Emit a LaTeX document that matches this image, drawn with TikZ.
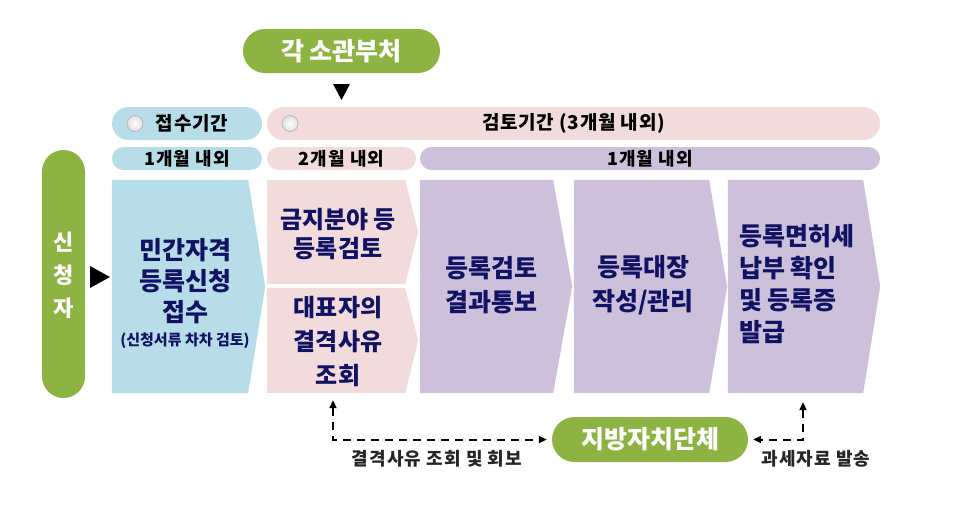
\documentclass[tikz,border=0pt]{standalone}
\usepackage{fontspec}
\setmainfont{Noto Sans CJK KR}
\usetikzlibrary{backgrounds,calc,arrows.meta}
\definecolor{grn}{RGB}{141,180,66}
\definecolor{lblue}{RGB}{183,222,232}
\definecolor{lpink}{RGB}{242,220,219}
\definecolor{lpurp}{RGB}{204,192,218}
\definecolor{navy}{RGB}{18,18,100}
\begin{document}
\begin{tikzpicture}[x=1pt,y=-1pt,
  pill/.style={rectangle,inner sep=0pt,rounded corners=#1},
  hdrtxt/.style={font=\fontsize{19}{21}\selectfont\bfseries\addfontfeatures{LetterSpace=4},text=black},
  hdrtxtb/.style={font=\fontsize{18}{20}\selectfont\bfseries\addfontfeatures{LetterSpace=6},text=black},
  boxnode/.style={rectangle,inner sep=0pt},
  boxtxt/.style={font=\fontsize{25}{32}\selectfont\bfseries,text=navy,align=center,inner sep=0pt},
  wtxt/.style={font=\fontsize{25}{28}\selectfont\bfseries,text=white},
  lbltxt/.style={font=\fontsize{18}{20}\selectfont\bfseries\addfontfeatures{LetterSpace=6},text=black!85},
  conn/.style={line width=2pt,dash pattern=on 8pt off 6pt,{Triangle[length=8pt,width=7pt]}-{Triangle[length=8pt,width=7pt]}},
  radio/.style={circle,minimum size=16pt,inner sep=0pt,draw=gray!55,line width=0.8pt,inner color=white,outer color=gray!25}
]
\useasboundingbox (0,0) rectangle (966,512);

% top ministry pill
\node[pill=22pt,fill=grn,minimum width=197pt,minimum height=44pt,wtxt] (min) at (341.5,51) {각 소관부처};
\fill (333,84) -- (350,84) -- (341.5,100) -- cycle;

% header row 1
\node[pill=16.5pt,fill=lblue,minimum width=150pt,minimum height=33pt] (h1) at (187,123.5) {};
\node[hdrtxt,anchor=center] (h1t) at (192,123.5) {접수기간};
\node[radio] (r1) at (135,123.5) {};
\node[pill=16.5pt,fill=lpink,minimum width=613pt,minimum height=33pt,hdrtxt] (h2) at (573.5,123.5) {검토기간 (3개월 내외)};
\node[radio] (r2) at (290,123.5) {};

% header row 2
\node[pill=11.5pt,fill=lblue,minimum width=150pt,minimum height=23pt,hdrtxtb] (p1) at (187,158.5) {1개월 내외};
\node[pill=11.5pt,fill=lpink,minimum width=149pt,minimum height=23pt,hdrtxtb] (p2) at (341.5,158.5) {2개월 내외};
\node[pill=11.5pt,fill=lpurp,minimum width=460pt,minimum height=23pt,hdrtxtb] (p3) at (650,158.5) {1개월 내외};

% applicant
\node[pill=21.5pt,fill=grn,minimum width=43pt,minimum height=248pt] (app) at (63.5,274) {};
\node[font=\fontsize{22}{33}\selectfont\bfseries,text=white,align=center,inner sep=0pt] (appt) at (63.5,275) {신\\청\\자};
\fill (90,266) -- (110,277) -- (90,288) -- cycle;

% process boxes (bodies)
\node[boxnode,minimum width=136pt,minimum height=213pt] (b1) at (180,286.5) {};
\node[boxnode,minimum width=138pt,minimum height=104pt] (b2) at (336,232) {};
\node[boxnode,minimum width=138pt,minimum height=105pt] (b3) at (336,340.5) {};
\node[boxnode,minimum width=133pt,minimum height=213pt] (b4) at (486.5,286.5) {};
\node[boxnode,minimum width=135pt,minimum height=213pt] (b5) at (641.5,286.5) {};
\node[boxnode,minimum width=135pt,minimum height=213pt] (b6) at (795.5,286.5) {};

\begin{scope}[on background layer]
\fill[lblue] (b1.north west) -- (b1.north east) -- ($(b1.east)+(17,0)$) -- (b1.south east) -- (b1.south west) -- cycle;
\fill[lpink] (b2.north west) -- (b2.north east) -- ($(b2.east)+(13,0)$) -- (b2.south east) -- (b2.south west) -- cycle;
\fill[lpink] (b3.north west) -- (b3.north east) -- ($(b3.east)+(13,0)$) -- (b3.south east) -- (b3.south west) -- cycle;
\fill[lpurp] (b4.north west) -- (b4.north east) -- ($(b4.east)+(19,0)$) -- (b4.south east) -- (b4.south west) -- cycle;
\fill[lpurp] (b5.north west) -- (b5.north east) -- ($(b5.east)+(18,0)$) -- (b5.south east) -- (b5.south west) -- cycle;
\fill[lpurp] (b6.north west) -- (b6.north east) -- ($(b6.east)+(17,0)$) -- (b6.south east) -- (b6.south west) -- cycle;
\end{scope}

% box texts
\node[boxtxt,font=\fontsize{25}{31}\selectfont\bfseries] (t1) at (185,293) {민간자격\\등록신청\\접수\\[-7pt]{\fontsize{15}{17}\selectfont (신청서류 차차 검토)}};
\node[boxtxt,font=\fontsize{24}{29}\selectfont\bfseries] (t2) at (338,234) {금지분야 등\\등록검토};
\node[boxtxt,font=\fontsize{24}{34}\selectfont\bfseries] (t3) at (338,341) {대표자의\\결격사유\\조회};
\node[boxtxt,font=\fontsize{25}{34}\selectfont\bfseries] (t4) at (491,285) {등록검토\\결과통보};
\node[boxtxt,font=\fontsize{25}{34}\selectfont\bfseries] (t5) at (643,285) {등록대장\\작성/관리};
\node[boxtxt,align=left,anchor=west] (t6) at (739,284) {등록면허세\\납부 확인\\및 등록증\\발급};

% local government
\node[pill=22.5pt,fill=grn,minimum width=196pt,minimum height=45pt,wtxt] (lg) at (650,439.5) {지방자치단체};

\draw[conn] ([xshift=-3pt,yshift=-7pt]b3.south) |- ([xshift=-5pt]lg.west);
\draw[conn] ([xshift=7.5pt,yshift=-9pt]b6.south) |- ([xshift=5pt]lg.east);

\node[lbltxt] (l1) at (437,459) {결격사유 조회 및 회보};
\node[lbltxt] (l2) at (816,459) {과세자료 발송};
\end{tikzpicture}
\end{document}
